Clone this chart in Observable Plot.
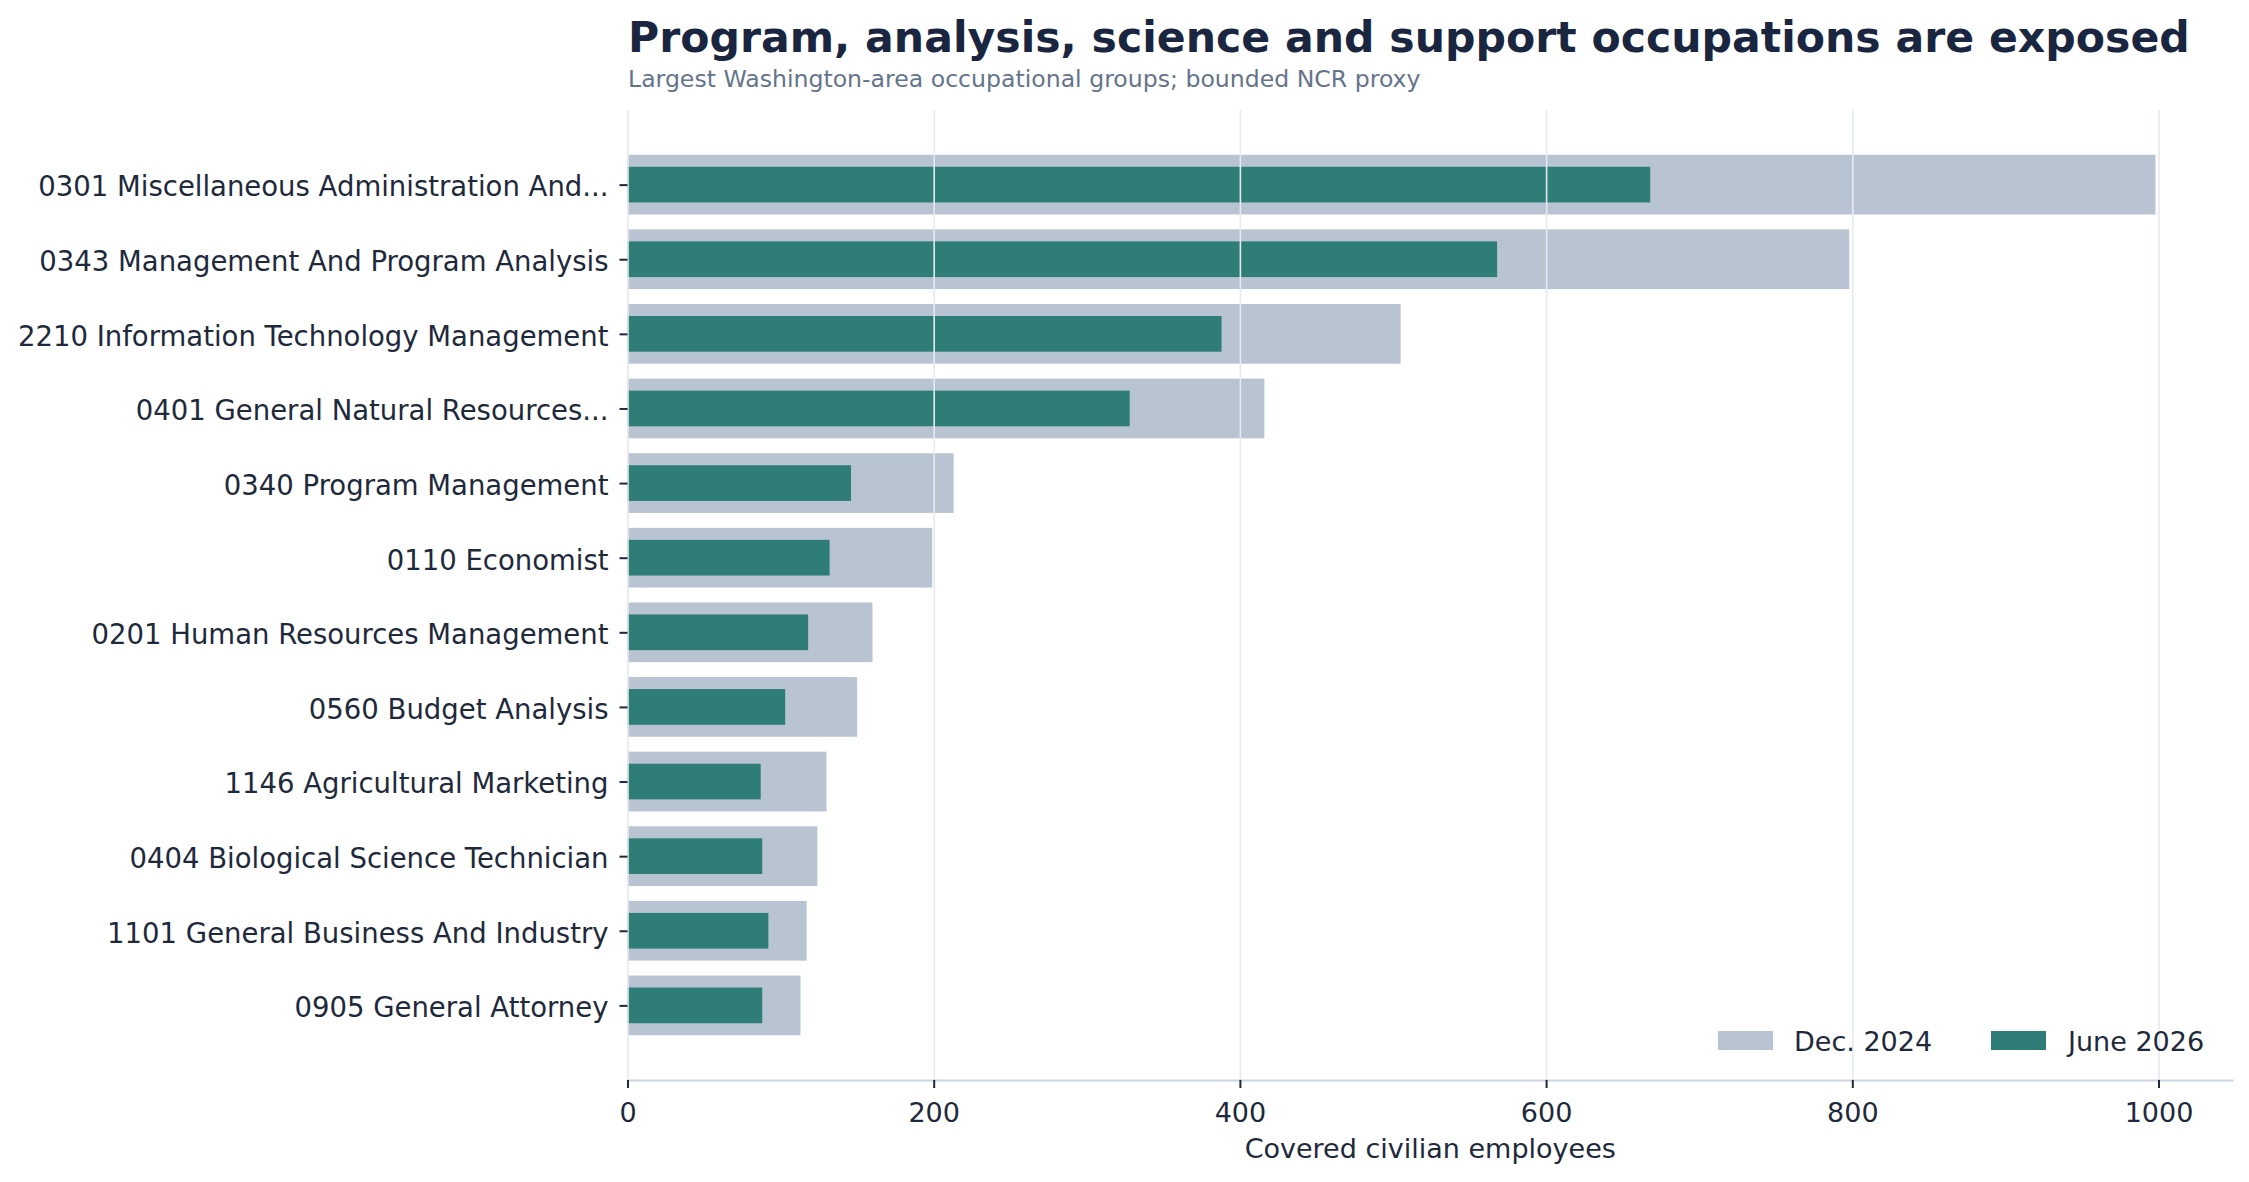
<!DOCTYPE html>
<html>
<head>
<meta charset="utf-8">
<script src="https://cdn.jsdelivr.net/npm/d3@7"></script>
<script src="https://cdn.jsdelivr.net/npm/@observablehq/plot@0.6"></script>
<style>
  html, body { margin: 0; padding: 0; background: #ffffff; }
  body { width: 2249px; height: 1182px; overflow: hidden; font-family: "DejaVu Sans", sans-serif; }
  #page { position: relative; width: 2249px; height: 1182px; }
  #header { position: relative; height: 100px; }
  #title { position: absolute; left: 628px; top: 16px; font-size: 42.6px; line-height: 42.6px; font-weight: bold; color: #1a2540; white-space: nowrap; }
  #subtitle { position: absolute; left: 628px; top: 67.5px; font-size: 23.6px; line-height: 23.6px; color: #64748b; white-space: nowrap; }
  #legend { position: absolute; left: 0; top: 0; width: 0; height: 0; }
  .sw { position: absolute; width: 55px; height: 19px; }
  .lt { position: absolute; font-size: 27px; line-height: 27px; color: #1e293b; white-space: nowrap; }
</style>
</head>
<body>
<div id="page">
  <div id="header">
    <div id="title">Program, analysis, science and support occupations are exposed</div>
    <div id="subtitle">Largest Washington-area occupational groups; bounded NCR proxy</div>
  </div>
  <div id="chart"></div>
  <div id="legend"></div>
</div>
<script>
const categories = [
  "0301 Miscellaneous Administration And...",
  "0343 Management And Program Analysis",
  "2210 Information Technology Management",
  "0401 General Natural Resources...",
  "0340 Program Management",
  "0110 Economist",
  "0201 Human Resources Management",
  "0560 Budget Analysis",
  "1146 Agricultural Marketing",
  "0404 Biological Science Technician",
  "1101 General Business And Industry",
  "0905 General Attorney"
];
const dec2024 = [998, 798, 505, 416, 213, 199, 160, 150, 130, 124, 117, 113];
const jun2026 = [668, 568, 388, 328, 146, 132, 118, 103, 87, 88, 92, 88];
const xTicks = [0, 200, 400, 600, 800, 1000];
const seriesNames = ["Dec. 2024", "June 2026"];
const seriesColors = ["#b8c4d2", "#2e7d76"];

const rows = categories.map((c, i) => ({category: c, dec: dec2024[i], jun: jun2026[i]}));

const textColor = "#1e293b";

const chart = Plot.plot({
  width: 2249,
  height: 1082,
  marginLeft: 627.5,
  marginRight: 17,
  marginTop: 10,
  marginBottom: 102,
  style: {fontFamily: "DejaVu Sans", fontSize: "27px", color: textColor, background: "#ffffff"},
  x: {domain: [0, 1048]},
  y: {type: "band", domain: categories, paddingInner: 0.2, paddingOuter: 0.6, round: false},
  marks: [
    Plot.barX(rows, {y: "category", x: "dec", fill: seriesColors[0]}),
    Plot.barX(rows, {y: "category", x: "jun", fill: seriesColors[1], insetTop: 12, insetBottom: 12}),
    Plot.gridX(xTicks, {stroke: "#e5e9f0", strokeOpacity: 1, strokeWidth: 1.6}),
    Plot.frame({anchor: "bottom", stroke: "#cbd5e1", strokeWidth: 2.2}),
    Plot.axisX({ticks: xTicks, tickFormat: d => String(d), tickSize: 8, tickPadding: 14, fontSize: 27, stroke: textColor, strokeWidth: 2, fill: textColor,
      label: "Covered civilian employees", labelAnchor: "center", labelArrow: "none", labelOffset: 77}),
    Plot.axisY({tickSize: 8, tickFormat: () => "", stroke: textColor, strokeWidth: 2, label: null}),
    Plot.axisY({tickSize: 0, tickPadding: 19.5, dy: 2.5, fontSize: 27.5, fill: textColor, stroke: "none", label: null})
  ]
});
document.getElementById("chart").appendChild(chart);

// legend (HTML, placed over the lower right of the plot)
const legend = document.getElementById("legend");
const swX = [1718, 1991];
const txX = [1794, 2068];
seriesNames.forEach((name, i) => {
  const sw = document.createElement("div");
  sw.className = "sw";
  sw.style.left = swX[i] + "px";
  sw.style.top = "1031px";
  sw.style.background = seriesColors[i];
  legend.appendChild(sw);
  const t = document.createElement("div");
  t.className = "lt";
  t.style.left = txX[i] + "px";
  t.style.top = "1028px";
  t.textContent = name;
  legend.appendChild(t);
});
</script>
</body>
</html>
